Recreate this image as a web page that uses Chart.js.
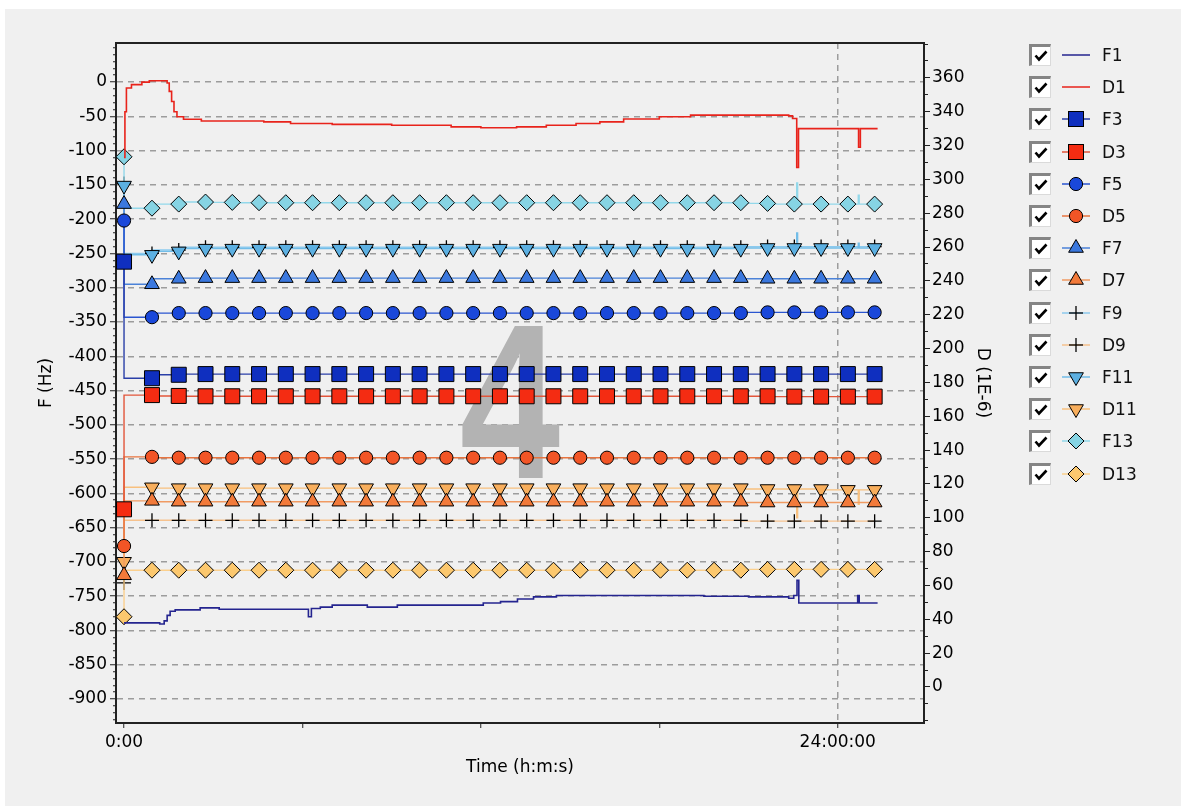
<!DOCTYPE html>
<html><head><meta charset="utf-8">
<script src="https://cdn.jsdelivr.net/npm/chart.js@4.4.1/dist/chart.umd.min.js"></script>
<style>
html,body{margin:0;padding:0;background:#fff;width:1181px;height:806px;overflow:hidden;font-family:"DejaVu Sans",sans-serif;}
#panel{position:absolute;left:5px;top:9px;right:0;bottom:0;background:#f0f0f0;}
#c{position:absolute;left:0;top:0;}
.cb{position:absolute;left:1029px;width:18px;height:18px;background:#fff;border-top:3px solid #858585;border-left:3px solid #858585;border-right:1px solid #dadada;border-bottom:1px solid #dadada;}
.cb svg{position:absolute;left:0;top:0;}
.ic{position:absolute;left:1060px;}
.lt{position:absolute;left:1102px;font-size:17px;line-height:24px;color:#111;white-space:nowrap;}
</style></head>
<body>
<div id="panel"></div>
<canvas id="c" width="1181" height="806"></canvas>
<div id="legend"></div>
<script>
// ---------- data ----------
const seriesNames = ['F1','D1','F3','D3','F5','D5','F7','D7','F9','D9','F11','D11','F13','D13'];
const markerTimes = [0, 0.94, 1.84, 2.74, 3.64, 4.54, 5.44, 6.34, 7.24, 8.14, 9.04, 9.94, 10.84, 11.74, 12.64, 13.54, 14.44, 15.34, 16.24, 17.14, 18.04, 18.94, 19.84, 20.74, 21.64, 22.54, 23.44, 24.34, 25.24];

const F3  = [-262,-432,-427,-426,-426,-426,-426,-426,-426,-426,-426,-426,-426,-426,-426,-426,-426,-426,-426,-426,-426,-426,-426,-426,-426,-426,-426,-426,-426];
const D3  = [105,172.5,172,171.8,171.8,171.8,171.8,171.8,171.8,171.8,171.8,171.8,171.8,171.8,171.8,171.8,171.8,171.8,171.8,171.8,171.8,171.8,171.8,171.8,171.8,171.6,171.6,171.6,171.6];
const F5  = [-202,-343,-337,-337,-337,-337,-337,-337,-337,-337,-337,-337,-337,-337,-337,-337,-337,-337,-337,-337,-337,-337,-337,-337,-336,-336,-336,-336,-336];
const D5  = [83.3,136,135.5,135.5,135.5,135.5,135.5,135.5,135.5,135.5,135.5,135.5,135.5,135.5,135.5,135.5,135.5,135.5,135.5,135.5,135.5,135.5,135.5,135.5,135.5,135.5,135.5,135.5,135.5];
const F7  = [-178,-295,-287,-286,-286,-286,-286,-286,-286,-286,-286,-286,-286,-286,-286,-286,-286,-286,-286,-286,-286,-286,-286,-286,-287,-287,-287,-287,-287];
const D7  = [66,110,109.5,109.5,109.5,109.5,109.5,109.5,109.5,109.5,109.5,109.5,109.5,109.5,109.5,109.5,109.5,109.5,109.5,109.5,109.5,109.5,109.5,109.5,109,109,109,109,109];
const F9  = [-148,-250,-245,-241,-241,-241,-241,-241,-241,-241,-241,-241,-241,-241,-241,-241,-241,-241,-241,-241,-241,-241,-241,-241,-240,-240,-240,-240,-240];
const D9  = [61.5,98.5,98.5,98.5,98.5,98.5,98.5,98.5,98.5,98.5,98.5,98.5,98.5,98.5,98.5,98.5,98.5,98.5,98.5,98.5,98.5,98.5,98.5,98.5,98,98,98,98,98];
const F11 = [-151,-252,-247,-243,-243,-243,-243,-243,-243,-243,-243,-243,-243,-243,-243,-243,-243,-243,-243,-243,-243,-243,-243,-243,-242,-242,-242,-242,-242];
const D11 = [74,118,117.5,117.5,117.5,117.5,117.5,117.5,117.5,117.5,117.5,117.5,117.5,117.5,117.5,117.5,117.5,117.5,117.5,117.5,117.5,117.5,117.5,117.5,117,117,117,116.5,116.5];
const F13 = [-109,-184,-178,-175,-175.5,-176,-176,-176,-176,-176,-176,-176,-176,-176,-176,-176,-176,-176,-176,-176,-176,-176,-176,-176,-177,-178,-178,-178,-178];
const D13 = [41.5,69,69,69,69,69,69,69,69,69,69,69,69,69,69,69,69,69,69,69,69,69,69,69,69.5,69.5,69.5,69.5,69.5];

// extra (unmarked) points: short spikes between markers
const F11_spikes = [[22.62,-242],[22.65,-220],[22.68,-242],[24.69,-242],[24.72,-235],[24.75,-242]];
const F13_spikes = [[22.62,-178],[22.65,-147],[22.68,-178],[24.69,-178],[24.72,-165],[24.75,-178]];
const D11_spikes = [[22.62,117],[22.65,100],[22.68,117],[24.69,116.5],[24.72,108],[24.75,116.5]];

// continuous traces (step starts)
const F1_t = [0,1.2,1.35,1.45,1.55,1.72,2.56,3.2,6.2,6.3,6.6,7.0,8.18,9.19,12.08,12.66,13.23,13.77,14.54,19.5,21.0,22.35,22.52,22.63,22.69,24.67,24.72,25.34];
const F1_v = [-789,-790.5,-786,-778,-772,-770,-767,-769,-780,-768,-766,-763,-766,-763,-760,-758,-754,-751,-749,-750,-751,-753,-749,-727,-760,-749,-760,-760];
const D1_t = [0,0.03,0.08,0.25,0.6,0.85,1.45,1.52,1.6,1.68,1.78,2.0,2.6,4.7,5.6,7.0,9.0,11.0,12.0,13.2,14.2,15.2,16.0,16.8,18.0,19.05,22.35,22.48,22.62,22.68,24.7,24.76,25.34];
const D1_v = [313,340,354,356,357.5,358.3,357,352,346,340,337,335.5,334.5,334,333,332.5,332,331,330.5,331,332,333,334,335.7,337,338,337.5,336,307,330,319,330,330];

// axis labels
const leftTickLabels  = [0,-50,-100,-150,-200,-250,-300,-350,-400,-450,-500,-550,-600,-650,-700,-750,-800,-850,-900];
const rightTickLabels = [0,20,40,60,80,100,120,140,160,180,200,220,240,260,280,300,320,340,360];
const xTickValues = [0,6,12,18,24];
const xTickLabels = ['0:00','','','','24:00:00'];

// ---------- styles ----------
const styles = {
 F1:{line:'#24248f'},
 D1:{line:'#e8231b'},
 F3:{line:'#2a3fa8', fill:'#0f2fbf', shape:'rect', r:10.6},
 D3:{line:'#e2553a', fill:'#f42c12', shape:'rect', r:10.6},
 F5:{line:'#2a55d0', fill:'#1a48da', shape:'circle', r:6.6},
 D5:{line:'#e8743f', fill:'#f25526', shape:'circle', r:6.6},
 F7:{line:'#4b82d8', fill:'#3b78de', shape:'triangle', r:8.5},
 D7:{line:'#f09a62', fill:'#f27a3a', shape:'triangle', r:8.5},
 F9:{line:'#8ccaee', fill:'#000', shape:'cross', r:7},
 D9:{line:'#f6c28e', fill:'#000', shape:'cross', r:7},
 F11:{line:'#72bde8', fill:'#5cb0e2', shape:'triangleDown', r:8.5},
 D11:{line:'#f8c07e', fill:'#f8ae5c', shape:'triangleDown', r:8.5},
 F13:{line:'#92d8ea', fill:'#86d4e4', shape:'rectRot', r:8},
 D13:{line:'#fbd08e', fill:'#fcc86e', shape:'rectRot', r:8}
};

const markerVals = {F3,D3,F5,D5,F7,D7,F9,D9,F11,D11,F13,D13};
const extras = {F11:F11_spikes, F13:F13_spikes, D11:D11_spikes};

function markerData(name){
  const pts = markerTimes.map((t,i)=>({x:t, y:markerVals[name][i], m:true}));
  (extras[name]||[]).forEach(p=>pts.push({x:p[0], y:p[1], m:false}));
  pts.sort((a,b)=>a.x-b.x);
  return pts;
}

const datasets = [];
seriesNames.forEach((name, idx)=>{
  const st = styles[name];
  const axis = name[0]==='F' ? 'y' : 'y2';
  if (!st.shape){
    const T = name==='F1'?F1_t:D1_t, V = name==='F1'?F1_v:D1_v;
    datasets.push({label:name, data:T.map((t,i)=>({x:t,y:V[i]})), yAxisID:axis,
      borderColor:st.line, borderWidth:1.6, pointRadius:0, stepped:true, order:idx});
  } else {
    const isCross = st.shape==='cross';
    datasets.push({label:name, data:markerData(name), yAxisID:axis,
      borderColor:st.line, borderWidth:1.4, stepped:'after',
      pointStyle: st.shape==='triangleDown' ? 'triangle' : st.shape,
      pointRotation: st.shape==='triangleDown' ? 180 : 0,
      pointRadius: c => (c.raw && c.raw.m) ? st.r : 0,
      pointHoverRadius: 0,
      pointBackgroundColor: st.fill,
      pointBorderColor: '#000',
      pointBorderWidth: isCross ? 1.3 : 1,
      order: (name==='F9'||name==='D9') ? 50+idx : idx});
  }
});

// ---------- chart ----------
Chart.defaults.font.family = '"DejaVu Sans", sans-serif';
Chart.defaults.color = '#000';

const GRID = '#9c9c9c';
const tickFont = {size:17};

const bgPlugin = {
  id:'decor',
  beforeDatasetsDraw(chart){
    const {ctx, chartArea:a} = chart;
    ctx.save();
    ctx.beginPath(); ctx.rect(a.left,a.top,a.right-a.left,a.bottom-a.top); ctx.clip();
    ctx.fillStyle = '#b3b3b3';
    ctx.font = 'bold 220px "Liberation Sans", sans-serif';
    ctx.textAlign = 'center'; ctx.textBaseline = 'alphabetic';
    ctx.translate(510, 478); ctx.scale(0.82, 1);
    ctx.fillText('4', 0, 0);
    ctx.restore();
  },
  afterDraw(chart){
    const {ctx, chartArea:a} = chart;
    ctx.save();
    ctx.strokeStyle = '#222'; ctx.lineWidth = 2;
    ctx.beginPath(); ctx.moveTo(a.left-1, a.top); ctx.lineTo(a.right+1, a.top); ctx.stroke();
    ctx.restore();
  }
};

new Chart(document.getElementById('c'), {
  type:'line',
  data:{datasets},
  plugins:[bgPlugin],
  options:{
    responsive:false, animation:false, events:[],
    layout:{padding:{left:20, right:157, top:43, bottom:13}},
    plugins:{legend:{display:false}, tooltip:{enabled:false}},
    scales:{
      x:{type:'linear', position:'bottom', min:-0.27, max:26.9,
        afterBuildTicks(s){ s.ticks = xTickValues.map(v=>({value:v})); },
        afterFit(s){ s.height = 70; },
        ticks:{autoSkip:false, maxRotation:0, font:tickFont, color:'#000', padding:4,
          callback:(v)=>{ const i = xTickValues.indexOf(v); return i>=0 ? xTickLabels[i] : ''; }},
        grid:{drawOnChartArea:true, tickLength:5, lineWidth:1.5,
          color:c => (c.tick && c.tick.value===24) ? GRID : 'rgba(0,0,0,0)',
          tickColor:'#222', tickWidth:1, borderDash:[6,5]},
        border:{color:'#222', width:2, dash:[6,5]},
        title:{display:true, text:'Time (h:m:s)', font:{size:17}, color:'#000', padding:{top:0,bottom:15}}
      },
      y:{type:'linear', position:'left', min:-935, max:57,
        afterBuildTicks(s){ const t=[]; for(let v=-930; v<=50; v+=10) t.push({value:v}); s.ticks=t; },
        afterFit(s){ s.width = 96; },
        ticks:{autoSkip:false, font:tickFont, color:'#000', padding:3,
          callback:(v)=> leftTickLabels.includes(v) ? String(v) : ''},
        grid:{tickLength:6, lineWidth:1.5,
          color:c => (c.tick && leftTickLabels.includes(c.tick.value)) ? GRID : 'rgba(0,0,0,0)',
          tickColor:'#222', tickWidth:1,
          tickBorderDash:c => (c.tick && leftTickLabels.includes(c.tick.value)) ? [] : [0,3,3,60],
          borderDash:[6,5]},
        border:{color:'#222', width:2, dash:[6,5]},
        title:{display:true, text:'F (Hz)', font:{size:17}, color:'#000', padding:{top:16,bottom:0}}
      },
      y2:{type:'linear', position:'right', min:-21.3, max:380.6,
        afterBuildTicks(s){ const t=[]; for(let v=-20; v<=380; v+=10) t.push({value:v}); s.ticks=t; },
        afterFit(s){ s.width = 100; },
        ticks:{autoSkip:false, font:tickFont, color:'#000', padding:2,
          callback:(v)=> rightTickLabels.includes(v) ? String(v) : ''},
        grid:{drawOnChartArea:false, tickLength:6, tickColor:'#222', tickWidth:1,
          tickBorderDash:c => (c.tick && rightTickLabels.includes(c.tick.value)) ? [] : [3,60]},
        border:{color:'#222', width:2},
        title:{display:true, text:'D (1E-6)', font:{size:17}, color:'#000', padding:{top:31,bottom:0}}
      }
    }
  }
});

// ---------- legend (HTML) ----------
function iconSVG(st){
  let s = '<svg width="32" height="24" viewBox="0 0 32 24">';
  s += `<line x1="2" y1="12" x2="30" y2="12" stroke="${st.line}" stroke-width="1.5"/>`;
  const cx=16, cy=12;
  switch(st.shape){
    case 'rect': s += `<rect x="${cx-7.5}" y="${cy-7.5}" width="15" height="15" fill="${st.fill}" stroke="#000" stroke-width="1"/>`; break;
    case 'circle': s += `<circle cx="${cx}" cy="${cy}" r="6.6" fill="${st.fill}" stroke="#000" stroke-width="1"/>`; break;
    case 'triangle': s += `<polygon points="${cx},${cy-8.5} ${cx+7.36},${cy+4.25} ${cx-7.36},${cy+4.25}" fill="${st.fill}" stroke="#000" stroke-width="1"/>`; break;
    case 'triangleDown': s += `<polygon points="${cx},${cy+8.5} ${cx+7.36},${cy-4.25} ${cx-7.36},${cy-4.25}" fill="${st.fill}" stroke="#000" stroke-width="1"/>`; break;
    case 'cross': s += `<line x1="${cx}" y1="${cy-7}" x2="${cx}" y2="${cy+7}" stroke="#000" stroke-width="1.3"/><line x1="${cx-7}" y1="${cy}" x2="${cx+7}" y2="${cy}" stroke="#000" stroke-width="1.3"/>`; break;
    case 'rectRot': s += `<polygon points="${cx},${cy-8} ${cx+8},${cy} ${cx},${cy+8} ${cx-8},${cy}" fill="${st.fill}" stroke="#000" stroke-width="1"/>`; break;
  }
  return s + '</svg>';
}
const leg = document.getElementById('legend');
let html = '';
seriesNames.forEach((name,i)=>{
  const cy = 55 + 32.2*i;
  html += `<div class="cb" style="top:${cy-11}px"><svg width="18" height="18" viewBox="0 0 18 18"><path d="M3.5 8.5 L7 12.5 L14.5 4.5" fill="none" stroke="#000" stroke-width="2.6"/></svg></div>`;
  html += `<div class="ic" style="top:${cy-12}px">${iconSVG(styles[name])}</div>`;
  html += `<div class="lt" style="top:${cy-12}px">${name}</div>`;
});
leg.innerHTML = html;
</script>
</body></html>
